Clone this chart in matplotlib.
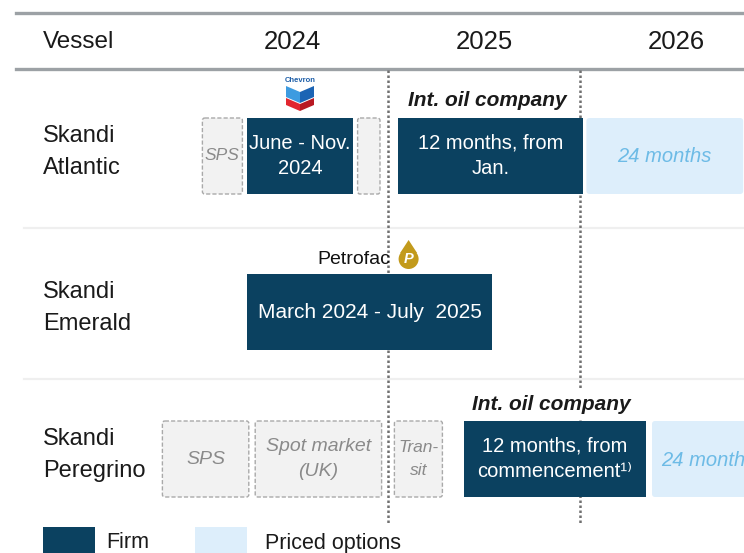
import matplotlib
matplotlib.use('Agg')
import matplotlib.pyplot as plt
from matplotlib.patches import Rectangle, FancyBboxPatch, Polygon, Ellipse

plt.rcParams['font.family'] = ['Liberation Sans', 'DejaVu Sans']

# months counted from Jan 2024 (0 = start of 2024)
years = ['2024', '2025', '2026']
year_start = [0, 12, 24]

vessels = ['Skandi\nAtlantic', 'Skandi\nEmerald', 'Skandi\nPeregrino']

atlantic_start = [0.4, 3.2, 10.1, 12.6, 24.4]
atlantic_end = [2.9, 9.8, 11.5, 24.2, 34.2]
atlantic_kind = ['spot', 'firm', 'spot', 'firm', 'option']
atlantic_text = ['SPS', 'June - Nov.\n2024', '', '12 months, from\nJan.', '24 months']

emerald_start = [3.2]
emerald_end = [18.5]
emerald_kind = ['firm']
emerald_text = ['March 2024 - July  2025']

peregrino_start = [-2.1, 3.7, 12.4, 16.75, 28.5]
peregrino_end = [3.3, 11.6, 15.4, 28.1, 35.6]
peregrino_kind = ['spot', 'spot', 'spot', 'firm', 'option']
peregrino_text = ['SPS', 'Spot market\n(UK)', 'Tran-\nsit',
                  '12 months, from\ncommencement\u00b9\u207e', '24 months']

# colours
navy = '#0b4160'
light = '#ddeefb'
light_txt = '#6dbbe6'
gray_fill = '#f2f2f2'
gray_edge = '#a9a9a9'
gray_txt = '#8a8a8a'

# layout (pixels, 744 x 553 figure)
PX = 16.0          # pixels per month
X0 = 196           # pixel of Jan 2024
def mx(px):
    return (px - X0) / PX

row_top = [118, 274, 421]
bar_h = 76

fig = plt.figure(figsize=(7.44, 5.53), dpi=100)
ax = fig.add_axes([0, 0, 1, 1])
ax.set_xlim(mx(0), mx(744))
ax.set_ylim(553, 0)
ax.axis('off')

# header
ax.axhline(13, xmin=16 / 744, xmax=1, color='#9ca1a5', lw=2.4, zorder=1)
ax.axhline(69, xmin=16 / 744, xmax=1, color='#9ca1a5', lw=2.4, zorder=1)
ax.text(mx(43), 42, 'Vessel', fontsize=17.5, color='#1a1a1a', va='center', ha='left')
for y, s in zip(years, year_start):
    ax.text(s + 6, 42, y, fontsize=18.5, color='#1a1a1a', va='center', ha='center')

# row separators
for y in [228, 379]:
    ax.axhline(y, xmin=24 / 744, xmax=1, color='#efefef', lw=1.6, zorder=1)

# year boundaries
for s in year_start[1:]:
    ax.plot([s, s], [70, 523], color='#707070', lw=1.8, ls=(0, (1, 1)), zorder=1)

rows = [
    (atlantic_start, atlantic_end, atlantic_kind, atlantic_text),
    (emerald_start, emerald_end, emerald_kind, emerald_text),
    (peregrino_start, peregrino_end, peregrino_kind, peregrino_text),
]

for i, (starts, ends, kinds, texts) in enumerate(rows):
    top = row_top[i]
    yc = top + bar_h / 2
    ax.text(mx(43), yc - 4, vessels[i], fontsize=17, color='#1a1a1a',
            va='center', ha='left', linespacing=1.55)
    for s, e, k, t in zip(starts, ends, kinds, texts):
        xc = (s + e) / 2
        if k == 'firm':
            ax.add_patch(Rectangle((s, top), e - s, bar_h, facecolor=navy,
                                   edgecolor='none', zorder=3))
            fs = 15 if i == 1 else 14.5
            ax.text(xc, yc, t, fontsize=fs, color='white', ha='center', va='center',
                    linespacing=1.45, zorder=4)
        elif k == 'option':
            ax.add_patch(FancyBboxPatch((s, top), e - s, bar_h,
                                        boxstyle='round,pad=0,rounding_size=0.2',
                                        mutation_aspect=PX, facecolor=light,
                                        edgecolor='none', zorder=3))
            ax.text(xc, yc + 1, t, fontsize=14.5, color=light_txt, style='italic',
                    ha='center', va='center', zorder=4, clip_on=True)
        else:
            ax.add_patch(FancyBboxPatch((s, top), e - s, bar_h,
                                        boxstyle='round,pad=0,rounding_size=0.15',
                                        mutation_aspect=PX, facecolor=gray_fill,
                                        edgecolor=gray_edge, lw=1.0, ls=(0, (3, 1.5)),
                                        zorder=3))
            fs = 12.5 if (e - s) < 4 else 14
            ax.text(xc, yc, t, fontsize=fs, color=gray_txt, style='italic',
                    ha='center', va='center', linespacing=1.65, zorder=4)

# client labels
for i, j in [(0, 3), (2, 3)]:
    s, e = rows[i][0][j], rows[i][1][j]
    ax.text((s + e) / 2 - 0.2, row_top[i] - 17, 'Int. oil company', fontsize=15,
            fontweight='bold', style='italic', color='#1a1a1a', ha='center', va='center',
            zorder=5, bbox=dict(facecolor='white', edgecolor='none', pad=3))

# Chevron logo above the first firm bar
cx = (atlantic_start[1] + atlantic_end[1]) / 2
ax.text(cx, 81, 'Chevron', fontsize=5.5, color='#1d5ea8', fontweight='bold',
        ha='center', va='center')
def poly(pts, col):
    ax.add_patch(Polygon([(cx + dx / PX, y) for dx, y in pts], closed=True,
                         facecolor=col, edgecolor='none', zorder=3))
poly([(-14, 86), (0, 92), (0, 103), (-14, 97)], '#3d9be0')
poly([(0, 92), (14, 86), (14, 97), (0, 103)], '#1c64b4')
poly([(-14, 98), (0, 104), (0, 111), (-14, 105)], '#e2262f')
poly([(0, 104), (14, 98), (14, 105), (0, 111)], '#b81822')

# Petrofac logo above the Emerald bar
ex = (emerald_start[0] + emerald_end[0]) / 2
ax.text(ex + 21 / PX, 259, 'Petrofac', fontsize=14, color='#111111',
        ha='right', va='center')
dx = ex + 39 / PX
ax.add_patch(Ellipse((dx, 259), 20 / PX, 20, facecolor='#c29a1c', edgecolor='none'))
ax.add_patch(Polygon([(dx - 8.5 / PX, 253), (dx, 240), (dx + 8.5 / PX, 253)],
                     facecolor='#c29a1c', edgecolor='none'))
ax.text(dx, 259, 'P', fontsize=10.5, fontweight='bold', style='italic', color='white',
        ha='center', va='center')

# legend
ax.add_patch(Rectangle((mx(43), 527), 52 / PX, 40, facecolor=navy, edgecolor='none'))
ax.text(mx(106), 543, 'Firm', fontsize=15.5, color='#1a1a1a', ha='left', va='center')
ax.add_patch(Rectangle((mx(195), 527), 52 / PX, 40, facecolor=light, edgecolor='none'))
ax.text(mx(265), 543, 'Priced options', fontsize=15.5, color='#1a1a1a',
        ha='left', va='center')

fig.savefig('out.png', dpi=100)
